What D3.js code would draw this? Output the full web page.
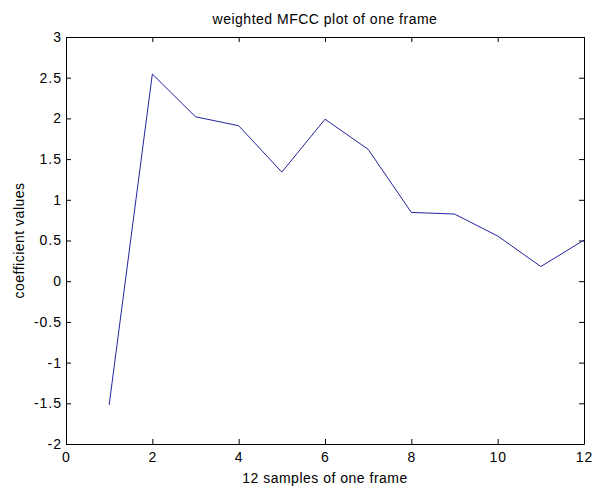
<!DOCTYPE html>
<html lang="en">
<head>
<meta charset="UTF-8">
<title>weighted MFCC plot of one frame</title>
<script src="https://d3js.org/d3.v7.min.js"></script>
<style>
  body { margin: 0; background: #fff; }
  text { font-family: "Liberation Sans", Arial, sans-serif; fill: #000; }
</style>
</head>
<body>
<div id="chart"></div>
<script>
// coefficient values, samples 1..12
var samples = [1, 2, 3, 4, 5, 6, 7, 8, 9, 10, 11, 12];
var coeffs = [-1.52, 2.545, 2.02, 1.91, 1.34, 1.99, 1.62, 0.845, 0.825, 0.555, 0.18, 0.505];
var xTicks = [0, 2, 4, 6, 8, 10, 12];
var yTicks = [-2, -1.5, -1, -0.5, 0, 0.5, 1, 1.5, 2, 2.5, 3];

var W = 592, H = 488;
var margin = { top: 37, right: 8, bottom: 44, left: 66 },
    width = W - margin.left - margin.right,
    height = H - margin.top - margin.bottom;

var svg = d3.select("#chart").append("svg")
    .attr("width", W)
    .attr("height", H);

var g = svg.append("g")
    .attr("transform", "translate(" + margin.left + "," + margin.top + ")");

var x = d3.scaleLinear().domain([0, 12]).range([0, width]);
var y = d3.scaleLinear().domain([-2, 3]).range([height, 0]);

var fmt = function(d) { return String(d); };

// axes (MATLAB style: ticks inward, box on all sides)
g.append("g")
    .attr("transform", "translate(0," + height + ")")
    .call(d3.axisBottom(x).tickValues(xTicks).tickFormat(fmt).tickSizeInner(-5).tickSizeOuter(0).tickPadding(8));
g.append("g")
    .call(d3.axisLeft(y).tickValues(yTicks).tickFormat(fmt).tickSizeInner(-5).tickSizeOuter(0).tickPadding(4));
g.append("g")
    .call(d3.axisTop(x).tickValues(xTicks).tickFormat("").tickSizeInner(-5).tickSizeOuter(0));
g.append("g")
    .attr("transform", "translate(" + width + ",0)")
    .call(d3.axisRight(y).tickValues(yTicks).tickFormat("").tickSizeInner(-5).tickSizeOuter(0));

g.selectAll(".domain").attr("stroke", "#000");
g.selectAll(".tick line").attr("stroke", "#000");
g.selectAll(".tick text")
    .style("font-family", "'Liberation Sans', Arial, sans-serif")
    .style("font-size", "14px")
    .style("letter-spacing", "1px")
    .attr("fill", "#000");

// data line
var line = d3.line()
    .x(function(d, i) { return x(samples[i]); })
    .y(function(d) { return y(d); });

g.append("path")
    .datum(coeffs)
    .attr("fill", "none")
    .attr("stroke", "#22229c")
    .attr("stroke-width", 1)
    .attr("d", line);

// title and labels
svg.append("text")
    .attr("x", margin.left + width / 2)
    .attr("y", 24)
    .attr("text-anchor", "middle")
    .style("font-size", "14px")
    .style("letter-spacing", "0.5px")
    .text("weighted MFCC plot of one frame");

svg.append("text")
    .attr("x", margin.left + width / 2)
    .attr("y", 483)
    .attr("text-anchor", "middle")
    .style("font-size", "14px")
    .style("letter-spacing", "0.5px")
    .text("12 samples of one frame");

svg.append("text")
    .attr("transform", "translate(24," + (margin.top + height / 2) + ") rotate(-90)")
    .attr("text-anchor", "middle")
    .style("font-size", "14px")
    .style("letter-spacing", "0.5px")
    .text("coefficient values");
</script>
</body>
</html>
